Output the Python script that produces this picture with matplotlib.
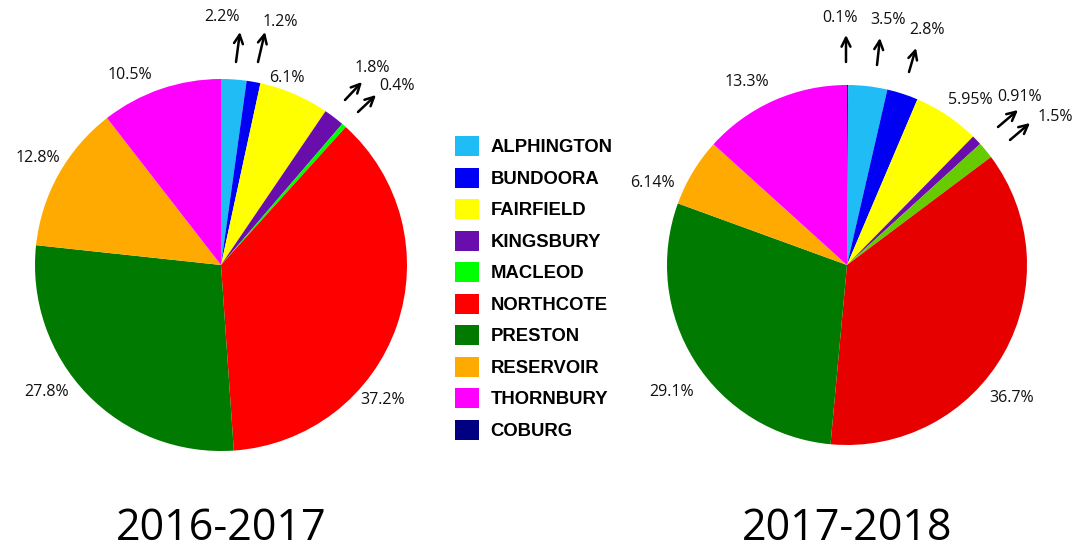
import matplotlib.pyplot as plt
import matplotlib as mp
from matplotlib.patches import Patch

mp.rcParams.update({'font.size': 11})

W, H = 1081, 552

names = ['ALPHINGTON', 'BUNDOORA', 'FAIRFIELD', 'KINGSBURY', 'MACLEOD',
         'NORTHCOTE', 'PRESTON', 'RESERVOIR', 'THORNBURY', 'COBURG']
colors = ['#1fbcf5', '#0000f5', '#ffff00', '#6a0dad', '#00ff00',
          '#ff0000', '#007a00', '#ffaa00', '#ff00ff', '#000080']

# 2016-2017 (no Coburg)
values_1617 = [2.2, 1.2, 6.1, 1.8, 0.4, 37.2, 27.8, 12.8, 10.5]
labels_1617 = ['2.2%', '1.2%', '6.1%', '1.8%', '0.4%', '37.2%', '27.8%', '12.8%', '10.5%']
colors_1617 = colors[:9]

# 2017-2018 (Coburg first, at the top)
values_1718 = [0.1, 3.5, 2.8, 5.95, 0.91, 1.5, 36.7, 29.1, 6.14, 13.3]
labels_1718 = ['0.1%', '3.5%', '2.8%', '5.95%', '0.91%', '1.5%', '36.7%', '29.1%', '6.14%', '13.3%']
colors_1718 = [colors[9]] + colors[:4] + ['#66cc00', '#e60000'] + colors[6:9]

# label placement: (text pos, arrow tail, arrow head) in px offsets from pie centre, y up
# None for arrow means plain label
place_1617 = [
    ((1, 248), (15, 203), (19, 233)),
    ((59, 243), (37, 203), (44, 233)),
    ((66, 187), None, None),
    ((151, 197), (124, 165), (141, 183)),
    ((176, 179), (137, 153), (155, 170)),
    ((162, -135), None, None),
    ((-174, -127), None, None),
    ((-183, 107), None, None),
    ((-91, 190), None, None),
]
place_1718 = [
    ((-7, 247), (-1, 203), (-1, 230)),
    ((41, 245), (30, 200), (33, 227)),
    ((80, 235), (62, 193), (69, 217)),
    ((123, 165), None, None),
    ((173, 168), (151, 138), (171, 155)),
    ((208, 148), (163, 125), (183, 142)),
    ((165, -133), None, None),
    ((-175, -127), None, None),
    ((-195, 82), None, None),
    ((-100, 183), None, None),
]


def draw_pie(cx, cy, r, values, labels, cols, places, title):
    half = 300
    ax = fig.add_axes([(cx - half) / W, (H - cy - half) / H, 2 * half / W, 2 * half / H])
    ax.pie(values, colors=cols, startangle=90, counterclock=False, radius=1.0)
    lim = half / r
    ax.set_xlim(-lim, lim)
    ax.set_ylim(-lim, lim)
    ax.set_aspect('equal')
    ax.axis('off')
    for lab, (txt, tail, head) in zip(labels, places):
        tx, ty = txt[0] / r, txt[1] / r
        ax.text(tx, ty, lab, ha='center', va='center', fontsize=11.5,
                family='Open Sans', color='#111111', clip_on=False)
        if tail is not None:
            ax.annotate('', xy=(head[0] / r, head[1] / r), xytext=(tail[0] / r, tail[1] / r),
                        arrowprops=dict(arrowstyle='->', color='black', lw=1.8,
                                        mutation_scale=16, shrinkA=0, shrinkB=0),
                        annotation_clip=False)
    fig.text(cx / W, 1 - 529 / H, title, ha='center', va='center', fontsize=31,
             family='Open Sans')


fig = plt.figure(figsize=(W / 100, H / 100), dpi=100, facecolor='w')

draw_pie(221, 265, 186, values_1617, labels_1617, colors_1617, place_1617, '2016-2017')
draw_pie(847, 265, 180, values_1718, labels_1718, colors_1718, place_1718, '2017-2018')

handles = [Patch(facecolor=c, edgecolor='none') for c in colors]
leg = fig.legend(handles, names, loc='center left', bbox_to_anchor=(438 / W, 1 - 288 / H),
                 frameon=False, handlelength=1.3, handleheight=1.3, labelspacing=0.61,
                 handletextpad=0.65, prop={'family': 'Liberation Sans', 'weight': 'bold', 'size': 13.3})

plt.savefig('out.png', dpi=100)
plt.close()
